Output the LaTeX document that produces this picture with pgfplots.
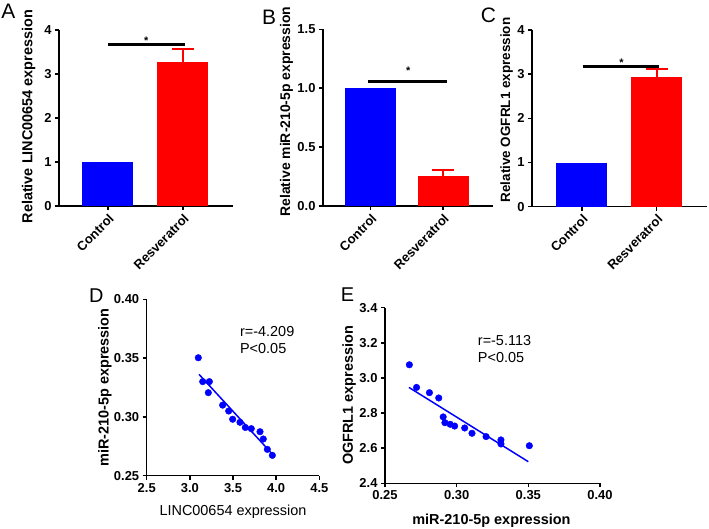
\documentclass[border=0pt]{standalone}
\usepackage{pgfplots}
\pgfplotsset{compat=1.18}
\usepackage{fontspec}
\setmainfont{Liberation Sans}
\definecolor{pblue}{RGB}{0,0,255}
\definecolor{pred}{RGB}{255,0,0}
\pgfplotsset{
  common/.style={
    scale only axis, anchor=south west, clip=false,
    axis lines*=left,
    axis line style={line width=1.5bp, black},
    tick style={line width=1.5bp, black},
    tick align=outside, major tick length=4bp,
    /pgf/number format/assume math mode=true,
    ticklabel style={font=\bfseries\fontsize{13}{15}\selectfont},
    label style={font=\bfseries\fontsize{14.5}{16}\selectfont},
  },
  barax/.style={
    common, ybar, bar width=51bp, ymin=0,
    xtick={0,1}, xticklabels={Control,Resveratrol},
    xticklabel style={rotate=45, anchor=north east, inner sep=2bp},
  },
  scat/.style={only marks, mark=*, mark size=3.3bp, color=pblue, mark options={fill=pblue, draw=pblue}},
  errs/.style={error bars/.cd, y dir=plus, y explicit, error mark=|,
    error bar style={pred, line width=2bp},
    error mark options={pred, line width=2bp, mark size=11bp}},
}
\begin{document}
\begin{tikzpicture}
\useasboundingbox (0,0) rectangle (709bp,529bp);
% panel letters
\node[anchor=base west, inner sep=0, font=\fontsize{21}{23}\selectfont] at (1.2bp,510.7bp) {A};
\node[anchor=base west, inner sep=0, font=\fontsize{21}{23}\selectfont] at (262bp,504bp) {B};
\node[anchor=base west, inner sep=0, font=\fontsize{21}{23}\selectfont] at (480.7bp,506bp) {C};
\node[anchor=base west, inner sep=0, font=\fontsize{20}{22}\selectfont] at (89bp,226bp) {D};
\node[anchor=base west, inner sep=0, font=\fontsize{20}{22}\selectfont] at (340.7bp,227bp) {E};

% ---------- A ----------
\begin{axis}[barax, at={(59bp,323bp)}, width=174bp, height=176bp,
  xmin=-0.653, xmax=1.667, ymax=4, ytick={0,1,2,3,4},
  ylabel={Relative LINC00654 expression},
  ylabel style={at={(axis description cs:-0.175,0.508)}, anchor=center}]
\addplot[fill=pblue, draw=none, bar shift=0pt] coordinates {(0,1.0)};
\addplot[fill=pred, draw=none, bar shift=0pt, errs] coordinates {(1,3.27) +- (0,0.30)};
\addplot[sharp plot, black, line width=3bp, no markers] coordinates {(0,3.67) (1.03,3.67)};
\node[anchor=base, inner sep=0, font=\bfseries\fontsize{11}{11}\selectfont] at (axis cs:0.51,3.67) {*};
\end{axis}

% ---------- B ----------
\begin{axis}[barax, at={(323bp,323bp)}, width=170bp, height=176.7bp,
  xmin=-0.66, xmax=1.69, ymax=1.5, ytick={0,0.5,1.0,1.5},
  yticklabel style={/pgf/number format/.cd, fixed, fixed zerofill, precision=1},
  ylabel={Relative miR-210-5p expression},
  ylabel style={at={(axis description cs:-0.215,0.534)}, anchor=center, font=\bfseries\fontsize{14}{15}\selectfont}]
\addplot[fill=pblue, draw=none, bar shift=0pt] coordinates {(0,1.0)};
\addplot[fill=pred, draw=none, bar shift=0pt, errs] coordinates {(1,0.257) +- (0,0.049)};
\addplot[sharp plot, black, line width=3bp, no markers] coordinates {(-0.037,1.06) (1.05,1.06)};
\node[anchor=base, inner sep=0, font=\bfseries\fontsize{11}{11}\selectfont] at (axis cs:0.52,1.114) {*};
\end{axis}

% ---------- C ----------
\begin{axis}[barax, at={(532bp,322.3bp)}, width=175bp, height=176.7bp,
  xmin=-0.669, xmax=1.673, ymax=4, ytick={0,1,2,3,4},
  ylabel={Relative OGFRL1 expression},
  ylabel style={at={(axis description cs:-0.145,0.547)}, anchor=center, font=\bfseries\fontsize{13.5}{15}\selectfont}]
\addplot[fill=pblue, draw=none, bar shift=0pt] coordinates {(0,1.0)};
\addplot[fill=pred, draw=none, bar shift=0pt, errs] coordinates {(1,2.93) +- (0,0.18)};
\addplot[sharp plot, black, line width=3bp, no markers] coordinates {(0.01,3.18) (1.03,3.18)};
\node[anchor=base, inner sep=0, font=\bfseries\fontsize{11}{11}\selectfont] at (axis cs:0.53,3.18) {*};
\end{axis}

% ---------- D ----------
\begin{axis}[common, at={(146.7bp,53.3bp)}, width=172.6bp, height=176.4bp,
  xmin=2.5, xmax=4.5, ymin=0.25, ymax=0.40,
  xtick={2.5,3.0,3.5,4.0,4.5}, ytick={0.25,0.30,0.35,0.40},
  xticklabel style={/pgf/number format/.cd, fixed, fixed zerofill, precision=1},
  yticklabel style={/pgf/number format/.cd, fixed, fixed zerofill, precision=2},
  xlabel={LINC00654 expression}, ylabel={miR-210-5p expression},
  xlabel style={at={(axis description cs:0.5,-0.204)}, anchor=center, font=\fontsize{14.5}{16}\selectfont},
  ylabel style={at={(axis description cs:-0.2416,0.5)}, anchor=center}]
\addplot[scat] coordinates {
 (3.098,0.3503) (3.149,0.330) (3.226,0.330) (3.214,0.3206) (3.380,0.310)
 (3.450,0.305) (3.496,0.298) (3.581,0.2954) (3.643,0.291) (3.712,0.290)
 (3.813,0.2874) (3.851,0.2812) (3.898,0.2724) (3.956,0.2673)};
\addplot[pblue, line width=1.5bp, no markers] coordinates {(3.106,0.3362) (3.948,0.269)};
\node[anchor=base west, inner sep=0, font=\fontsize{14.5}{16}\selectfont] at (axis cs:3.58,0.3682) {r=-4.209};
\node[anchor=base west, inner sep=0, font=\fontsize{14.5}{16}\selectfont] at (axis cs:3.58,0.354) {P<0.05};
\end{axis}

% ---------- E ----------
\begin{axis}[common, at={(385bp,45.7bp)}, width=215bp, height=175.6bp,
  xmin=0.25, xmax=0.40, ymin=2.4, ymax=3.4,
  xtick={0.25,0.30,0.35,0.40}, ytick={2.4,2.6,2.8,3.0,3.2,3.4},
  xticklabel style={/pgf/number format/.cd, fixed, fixed zerofill, precision=2},
  yticklabel style={/pgf/number format/.cd, fixed, fixed zerofill, precision=1},
  xlabel={miR-210-5p expression}, ylabel={OGFRL1 expression},
  xlabel style={at={(axis description cs:0.495,-0.2135)}, anchor=center},
  ylabel style={at={(axis description cs:-0.167,0.5)}, anchor=center}]
\addplot[scat] coordinates {
 (0.267,3.075) (0.272,2.946) (0.281,2.916) (0.2875,2.886) (0.2906,2.778)
 (0.2918,2.745) (0.2955,2.736) (0.2986,2.726) (0.3056,2.715) (0.3107,2.685)
 (0.3205,2.666) (0.3309,2.647) (0.3309,2.624) (0.3507,2.614)};
\addplot[pblue, line width=1.5bp, no markers] coordinates {(0.2667,2.946) (0.350,2.523)};
\node[anchor=base west, inner sep=0, font=\fontsize{14.5}{16}\selectfont] at (axis cs:0.3147,3.182) {r=-5.113};
\node[anchor=base west, inner sep=0, font=\fontsize{14.5}{16}\selectfont] at (axis cs:0.3147,3.087) {P<0.05};
\end{axis}
\end{tikzpicture}
\end{document}
